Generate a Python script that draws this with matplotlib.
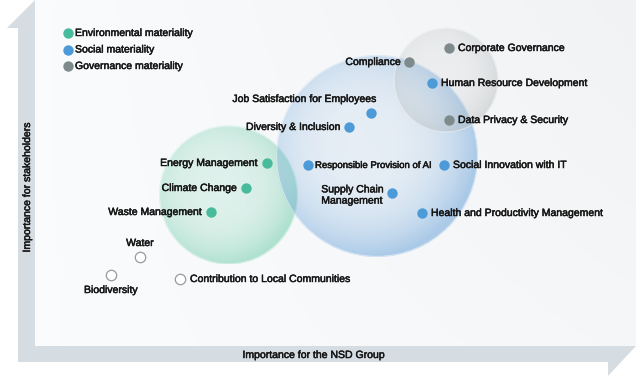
import numpy as np
import matplotlib
matplotlib.use("Agg")
import matplotlib.pyplot as plt
import matplotlib.patheffects as pe
from matplotlib.patches import Circle, Polygon

plt.rcParams['font.family'] = ['Liberation Sans', 'DejaVu Sans']

# data (x = importance for NSD group, y = importance for stakeholders; picture units, y downwards)
env_names = ["Energy Management", "Climate Change", "Waste Management"]
env_x = [267, 246, 211]
env_y = [163, 188, 212]

soc_names = ["Job Satisfaction for Employees", "Diversity & Inclusion",
             "Responsible Provision of AI", "Social Innovation with IT",
             "Supply Chain\nManagement", "Health and Productivity Management",
             "Human Resource Development"]
soc_x = [371, 349, 308, 444, 392, 422, 432]
soc_y = [113, 127, 165, 165, 193, 213, 83]

gov_names = ["Corporate Governance", "Compliance", "Data Privacy & Security"]
gov_x = [449, 409, 449]
gov_y = [48, 62, 120]

other_names = ["Water", "Biodiversity", "Contribution to Local Communities"]
other_x = [140, 111, 180]
other_y = [257, 275, 279]

# group bubbles: env, social, governance
bub_x = [228.5, 377, 446]
bub_y = [195, 156, 80]
bub_r = [69.5, 101, 52.5]

legend_labels = ["Environmental materiality", "Social materiality", "Governance materiality"]

GREEN = "#47bb9c"
BLUE = "#4c9bd8"
GRAY = "#7e8a8c"
TXT = "#161616"

fig = plt.figure(figsize=(6.4, 3.76), dpi=100)
ax = fig.add_axes([0, 0, 1, 1])
ax.set_xlim(0, 640)
ax.set_ylim(376, 0)
ax.axis('off')

# plot background, slight gradient
gx = np.linspace(0, 1, 200)
gy = np.linspace(0, 1, 120)
GX, GY = np.meshgrid(gx, gy)
shade = 0.99 - 0.035 * GX * (1 - 0.5 * GY)
bg = np.dstack([shade * 0.99, shade * 0.995, shade, np.ones_like(shade)])
ax.imshow(bg, extent=[35, 636, 346, 0], zorder=0, aspect='auto')

# frame arrows
bar = "#d5dce2"
ax.add_patch(Polygon([(35, 0), (7, 28), (18, 28), (18, 362), (608, 362), (608, 376),
                      (636, 346), (35, 346)], closed=True, fc=bar, ec='none', zorder=1))

# bubbles
bub_cols = [((0.36, 0.78, 0.62), 0.16, 0.46), ((0.35, 0.60, 0.84), 0.10, 0.48),
            ((0.68, 0.70, 0.71), 0.12, 0.40)]
for (cx, cy, r, (col, a0, a1)) in zip(bub_x, bub_y, bub_r, bub_cols):
    n = 200
    xs = np.linspace(-1, 1, n)
    XX, YY = np.meshgrid(xs, xs)
    d = np.sqrt((XX + 0.12) ** 2 + (YY + 0.12) ** 2) / 1.12
    d = np.clip(d, 0, 1)
    alpha = a0 + (a1 - a0) * d ** 3
    img = np.zeros((n, n, 4))
    img[..., 0], img[..., 1], img[..., 2] = col
    img[..., 3] = alpha
    im = ax.imshow(img, extent=[cx - r, cx + r, cy + r, cy - r], zorder=2, aspect='auto',
                   interpolation='bilinear')
    clip = Circle((cx, cy), r, transform=ax.transData)
    im.set_clip_path(clip)
    ax.add_patch(Circle((cx, cy), r - 0.6, fc='none', ec=(1, 1, 1, 0.5), lw=0.8, zorder=2))

# points
ms = 56
ax.scatter(env_x, env_y, s=ms, c=GREEN, zorder=4, linewidths=0)
ax.scatter(soc_x, soc_y, s=ms, c=BLUE, zorder=4, linewidths=0)
ax.scatter(gov_x, gov_y, s=ms, c=GRAY, zorder=4, linewidths=0)
ax.scatter(other_x, other_y, s=ms, c='white', edgecolors='#9a9a9a', linewidths=0.9, zorder=4)

fs = 7.55
bold = [pe.withStroke(linewidth=0.35, foreground=TXT)]

def lab(x, y, t, dx, dy, ha, size=fs, va='center'):
    ax.annotate(t, (x, y), xytext=(dx, dy), textcoords='offset pixels', ha=ha, va=va,
                fontsize=size, color=TXT, zorder=5, multialignment='left', linespacing=1.15,
                path_effects=bold)

# label placement (pixels from the dot)
env_lab = [(-9, 0, 'right'), (-9, 0, 'right'), (-9, 0, 'right')]
soc_lab = [(6, 14, 'right'), (-8, 0, 'right'), (7, 0, 'left'), (9, 0, 'left'),
           (-8, -2, 'right'), (9, 0, 'left'), (9, 0, 'left')]
gov_lab = [(9, 0, 'left'), (-8, 0, 'right'), (9, 0, 'left')]
other_lab = [(0, 14, 'center'), (0, -15, 'center'), (10, 0, 'left')]

for names, xs_, ys_, pl in [(env_names, env_x, env_y, env_lab), (soc_names, soc_x, soc_y, soc_lab),
                           (gov_names, gov_x, gov_y, gov_lab), (other_names, other_x, other_y, other_lab)]:
    for t, x, y, (dx, dy, ha) in zip(names, xs_, ys_, pl):
        size = 6.9 if t.startswith("Responsible") else fs
        lab(x, y, t, dx, dy, ha, size=size)

# legend
for i, (t, c) in enumerate(zip(legend_labels, [GREEN, BLUE, GRAY])):
    ly = 33 + i * 16.5
    ax.scatter([68], [ly], s=ms, c=c, linewidths=0, zorder=4)
    ax.text(75, ly, t, ha='left', va='center', fontsize=fs, color=TXT, zorder=5,
            path_effects=bold)

# axis titles
ax.text(27, 187, "Importance for stakeholders", rotation=90, ha='center', va='center',
        fontsize=fs, color=TXT, zorder=5, path_effects=bold)
ax.text(314, 355, "Importance for the NSD Group", ha='center', va='center',
        fontsize=fs, color=TXT, zorder=5, path_effects=bold)

fig.savefig("out.png", dpi=100)
